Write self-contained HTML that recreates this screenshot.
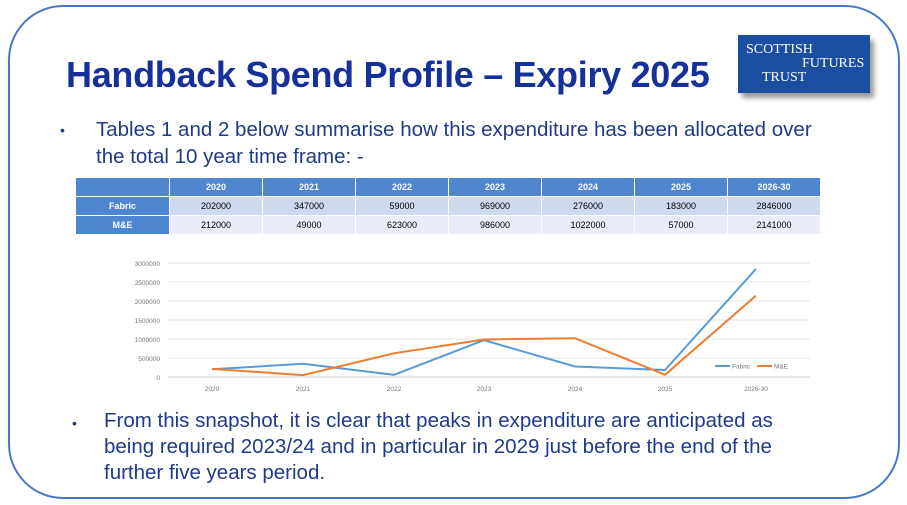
<!DOCTYPE html>
<html><head><meta charset="utf-8"><style>
body{margin:0;width:907px;height:505px;background:#fff;position:relative;overflow:hidden;font-family:"Liberation Sans",sans-serif}
.frame{position:absolute;left:8px;top:5px;width:888px;height:490px;border:2px solid #4a78c8;border-radius:55px}
h1{position:absolute;left:66px;top:55px;margin:0;font-size:36px;font-weight:bold;color:#16309a;letter-spacing:-0.3px;line-height:40px}
.logo{position:absolute;left:738px;top:35px;width:132px;height:58px;background:#1a4ea0;color:#fff;font-family:"Liberation Serif",serif;font-size:14px;box-shadow:4px 5px 5px #999}
.logo span{position:absolute;line-height:14px}
.b{position:absolute;color:#1f3a8a;font-size:20.5px}
.dot{position:absolute;color:#1f3a8a;font-size:14px}
table{position:absolute;left:75px;top:177px;border-collapse:collapse;font-size:9px;text-align:center}
td{height:18px;border:1px solid #fff;padding:0}
.h td{background:#4f86d0;color:#fff;font-weight:bold}
.r1 td{background:#cfd9ee}.r2 td{background:#e8edf7}
td.l{background:#4f86d0;color:#fff;font-weight:bold}
</style></head><body>
<div class="frame"></div>
<h1>Handback Spend Profile – Expiry 2025</h1>
<div class="logo"><span style="left:8px;top:8px">SCOTTISH</span><span style="left:64px;top:22px">FUTURES</span><span style="left:24px;top:36px">TRUST</span></div>
<div class="dot" style="left:60px;top:122px">•</div>
<div class="b" style="left:96px;top:116px;line-height:27px">Tables 1 and 2 below summarise how this expenditure has been allocated over<br>the total 10 year time frame: -</div>
<table>
<tr class="h"><td style="width:93px"></td><td style="width:92px">2020</td><td style="width:92px">2021</td><td style="width:92px">2022</td><td style="width:92px">2023</td><td style="width:92px">2024</td><td style="width:92px">2025</td><td style="width:92px">2026-30</td></tr>
<tr class="r1"><td class="l">Fabric</td><td>202000</td><td>347000</td><td>59000</td><td>969000</td><td>276000</td><td>183000</td><td>2846000</td></tr>
<tr class="r2"><td class="l">M&amp;E</td><td>212000</td><td>49000</td><td>623000</td><td>986000</td><td>1022000</td><td>57000</td><td>2141000</td></tr>
</table>
<svg style="position:absolute;left:0;top:0" width="907" height="505">
<g stroke="#e4e4e4" stroke-width="1">
<line x1="168" x2="810" y1="263" y2="263"/><line x1="168" x2="810" y1="282" y2="282"/><line x1="168" x2="810" y1="301" y2="301"/><line x1="168" x2="810" y1="320" y2="320"/><line x1="168" x2="810" y1="339" y2="339"/><line x1="168" x2="810" y1="358" y2="358"/><line x1="168" x2="810" y1="377" y2="377" stroke="#d0d0d0"/>
</g>
<g font-size="6.5" fill="#777" text-anchor="end">
<text x="160" y="266">3000000</text><text x="160" y="285">2500000</text><text x="160" y="304">2000000</text><text x="160" y="323">1500000</text><text x="160" y="342">1000000</text><text x="160" y="361">500000</text><text x="160" y="380">0</text>
</g>
<g font-size="6.5" fill="#777" text-anchor="middle">
<text x="212" y="391">2020</text><text x="303" y="391">2021</text><text x="394" y="391">2022</text><text x="484" y="391">2023</text><text x="575" y="391">2024</text><text x="665" y="391">2025</text><text x="756" y="391">2026-30</text>
</g>
<polyline fill="none" stroke="#5b9bd5" stroke-width="2" points="212,369.3 303,363.8 394,374.8 484,340.2 575,366.5 665,370 756,268.9"/>
<polyline fill="none" stroke="#ed7d31" stroke-width="2" points="212,368.9 303,375.1 394,353.3 484,339.5 575,338.2 665,374.8 756,295.6"/>
<line x1="715" x2="730" y1="366" y2="366" stroke="#5b9bd5" stroke-width="2"/><text x="732" y="368.5" font-size="6.5" fill="#777">Fabric</text>
<line x1="757" x2="772" y1="366" y2="366" stroke="#ed7d31" stroke-width="2"/><text x="774" y="368.5" font-size="6.5" fill="#777">M&amp;E</text>
</svg>
<div class="dot" style="left:72px;top:415px">•</div>
<div class="b" style="left:104px;top:408px;line-height:26px">From this snapshot, it is clear that peaks in expenditure are anticipated as<br>being required 2023/24 and in particular in 2029 just before the end of the<br>further five years  period.</div>
</body></html>
